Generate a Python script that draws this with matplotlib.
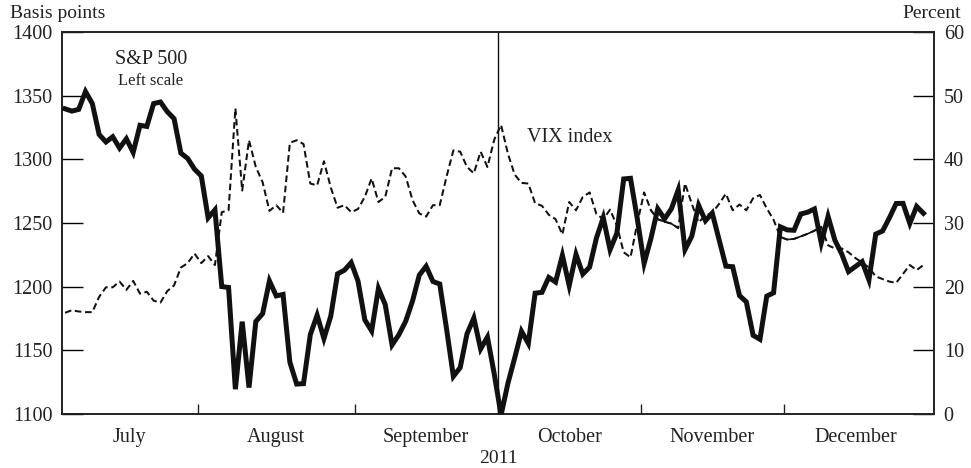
import numpy as np
import matplotlib
matplotlib.use("Agg")
import matplotlib.pyplot as plt

# S&P 500 daily closes, Jul-Dec 2011 (trading days)
spx_jul = [1339.67, 1337.88, 1339.22, 1353.22, 1343.80, 1319.49, 1313.64, 1317.72, 1308.87, 1316.14,
           1305.44, 1326.73, 1325.84, 1343.80, 1345.02, 1337.43, 1331.94, 1304.89, 1300.67, 1292.28]
spx_aug = [1286.94, 1254.05, 1260.34, 1200.07, 1199.38, 1119.46, 1172.53, 1120.76, 1172.64, 1178.81,
           1204.49, 1192.76, 1193.89, 1140.65, 1123.53, 1123.82, 1162.35, 1177.60, 1159.27, 1176.80,
           1210.08, 1212.92, 1218.89]
spx_sep = [1204.42, 1173.97, 1165.24, 1198.62, 1185.90, 1154.23, 1162.27, 1172.87, 1188.68, 1209.11,
           1216.01, 1204.09, 1202.09, 1166.76, 1129.56, 1136.43, 1162.95, 1175.38, 1151.06, 1160.40,
           1131.42]
spx_oct = [1099.23, 1123.95, 1144.03, 1164.97, 1155.46, 1194.89, 1195.54, 1207.25, 1203.66, 1224.58,
           1200.86, 1225.38, 1209.88, 1215.39, 1238.25, 1254.19, 1229.05, 1242.00, 1284.59, 1285.09,
           1253.30]
spx_nov = [1218.28, 1237.90, 1261.15, 1253.23, 1261.12, 1275.92, 1229.10, 1239.69, 1263.85, 1251.78,
           1257.81, 1236.91, 1216.13, 1215.65, 1192.98, 1188.04, 1161.79, 1158.67, 1192.55, 1195.19,
           1246.96]
spx_dec = [1244.58, 1244.28, 1257.08, 1258.47, 1261.01, 1234.35, 1255.19, 1236.47, 1225.73, 1211.82,
           1215.75, 1219.66, 1205.35, 1241.30, 1243.72, 1254.00, 1265.33, 1265.43, 1249.64, 1263.02,
           1257.60]

# VIX index, percent
vix_jul = [15.9, 16.3, 16.1, 16.0, 16.0, 18.4, 19.9, 19.9, 20.8, 19.5,
           20.9, 18.9, 19.2, 17.8, 17.5, 19.3, 20.2, 23.0, 23.7, 25.2]
vix_aug = [23.7, 24.8, 23.4, 31.7, 32.0, 48.0, 35.1, 43.0, 38.8, 36.4,
           31.9, 32.8, 31.6, 42.6, 43.0, 42.4, 36.2, 35.9, 39.7, 35.6,
           32.4, 32.8, 31.7]
vix_sep = [32.2, 34.1, 37.0, 33.3, 34.1, 38.6, 38.6, 37.3, 33.6, 31.5,
           31.0, 32.8, 32.8, 37.3, 41.4, 41.2, 38.8, 37.8, 41.2, 38.8,
           43.1]
vix_oct = [45.4, 40.9, 37.6, 36.3, 36.2, 33.1, 32.7, 31.3, 30.6, 28.2,
           33.3, 32.0, 34.1, 34.8, 31.4, 30.6, 32.1, 29.6, 25.4, 24.6,
           30.0]
vix_nov = [34.8, 32.0, 30.6, 30.2, 29.9, 29.2, 36.2, 33.0, 30.1, 31.2,
           31.6, 33.0, 34.6, 32.0, 32.9, 32.0, 33.9, 34.4, 32.3, 30.5,
           27.8]
vix_dec = [27.4, 27.5, 27.9, 28.3, 28.8, 29.4, 26.5, 26.0, 26.0, 25.4,
           24.5, 23.8, 23.0, 21.6, 21.2, 20.8, 20.6, 22.0, 23.4, 22.6,
           23.4]

months = ["July", "August", "September", "October", "November", "December"]
month_days = [len(spx_jul), len(spx_aug), len(spx_sep), len(spx_oct), len(spx_nov), len(spx_dec)]
# stretches where the VIX line is drawn unbroken in the original
vix_solid_spans = [(86, 90), (105, 110)]

spx = np.array(spx_jul + spx_aug + spx_sep + spx_oct + spx_nov + spx_dec)
vix = np.array(vix_jul + vix_aug + vix_sep + vix_oct + vix_nov + vix_dec)
days = np.arange(len(spx))

serif = ["Liberation Serif", "DejaVu Serif"]
plt.rcParams["font.family"] = serif
txt = "#222222"

fig = plt.figure(figsize=(9.71, 4.68), dpi=100)
ax = fig.add_axes([62 / 971, 1 - 414 / 468, 872 / 971, 382 / 468])
ax2 = ax.twinx()

ax.plot(days, spx, color="#111111", lw=3.6, solid_joinstyle="miter", zorder=3)
ax2.plot(days, vix, color="#111111", lw=1.45, linestyle=(0, (3.3, 1.8)), zorder=2)
for a, b in vix_solid_spans:
    ax2.plot(days[a:b + 1], vix[a:b + 1], color="#111111", lw=1.2, zorder=2)

ax.set_zorder(ax2.get_zorder() + 1)
ax.patch.set_visible(False)

ax.set_xlim(-0.45, len(spx) + 0.55)
ax.set_ylim(1100, 1400)
ax2.set_ylim(0, 60)

bounds = np.cumsum([0] + month_days) - 0.5
ax.set_xticks(bounds[1:-1])
ax.set_xticklabels([])
ax.set_xticks((bounds[:-1] + bounds[1:]) / 2, minor=True)
ax.set_xticklabels(months, minor=True)
ax.tick_params(axis="x", which="major", direction="in", length=7, width=1, color="#222222")
ax.tick_params(axis="x", which="minor", length=0, pad=10, labelsize=14.5, labelcolor=txt)
ax.axvline(bounds[3], color="#111111", lw=1.0)

ax.set_yticks(np.arange(1100, 1401, 50))
ax.tick_params(axis="y", direction="in", length=15, width=1, pad=7, labelsize=14.5, labelcolor=txt)
ax2.set_yticks(np.arange(0, 61, 10))
ax2.tick_params(axis="y", direction="in", length=15, width=1, pad=7, labelsize=14.5, labelcolor=txt)

for a in (ax, ax2):
    for s in a.spines.values():
        s.set_linewidth(1.2)
        s.set_color("#222222")

ax.set_xlabel("2011", fontsize=14, color=txt, labelpad=2)

fig.text(10 / 971, 1 - 13 / 468, "Basis points", fontsize=14, color=txt, va="center", ha="left")
fig.text(961 / 971, 1 - 13 / 468, "Percent", fontsize=14, color=txt, va="center", ha="right")
ax.text(151 / 971, 1 - 60 / 468, "S&P 500", transform=fig.transFigure, fontsize=14.5,
        color=txt, ha="center", va="center")
ax.text(151 / 971, 1 - 81 / 468, "Left scale", transform=fig.transFigure, fontsize=12,
        color=txt, ha="center", va="center")
ax.text(527 / 971, 1 - 137 / 468, "VIX index", transform=fig.transFigure, fontsize=14.5,
        color=txt, ha="left", va="center")

fig.savefig("out.png", dpi=100)
